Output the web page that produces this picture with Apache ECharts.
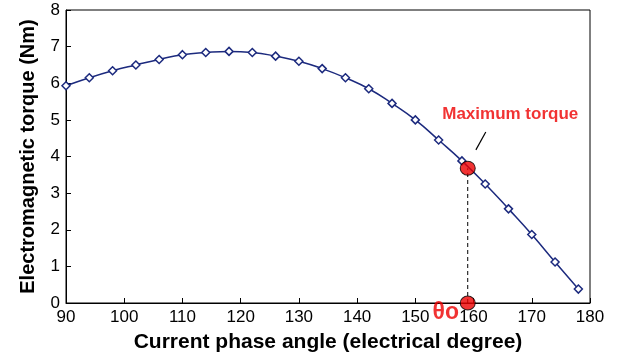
<!DOCTYPE html>
<html>
<head>
<meta charset="utf-8">
<script src="https://cdn.jsdelivr.net/npm/echarts@6/dist/echarts.min.js"></script>
<style>
  html, body { margin: 0; padding: 0; background: #fff; }
  #chart { width: 627px; height: 360px; }
</style>
</head>
<body>
<div id="chart"></div>
<script>
// current phase angle (deg) and torque (Nm)
const angles = [90, 94, 98, 102, 106, 110, 114, 118, 122, 126, 130, 134, 138, 142, 146, 150, 154, 158, 162, 166, 170, 174, 178];
const torque = [5.93, 6.15, 6.34, 6.5, 6.65, 6.78, 6.84, 6.87, 6.84, 6.74, 6.6, 6.4, 6.15, 5.85, 5.45, 5.0, 4.45, 3.88, 3.25, 2.57, 1.87, 1.12, 0.38];

// maximum torque point
const maxAngle = 159;
const maxTorque = 3.68;
const leaderLine = [[160.4, 4.18], [162.1, 4.67]];
const labelPos = [166.3, 5.15];

const xTicks = { min: 90, max: 180, step: 10 };
const yTicks = { min: 0, max: 8, step: 1 };

const font = 'Liberation Sans, Arial, sans-serif';
const navy = '#1c2a7e';

const chart = echarts.init(document.getElementById('chart'));

const option = {
  animation: false,
  backgroundColor: '#fff',
  grid: { left: 66, right: 37, top: 10, bottom: 57, show: true, borderColor: '#000', borderWidth: 1 },
  xAxis: {
    type: 'value',
    min: xTicks.min, max: xTicks.max, interval: xTicks.step,
    name: 'Current phase angle (electrical degree)',
    nameLocation: 'middle', nameGap: 29,
    nameTextStyle: { fontFamily: font, fontSize: 21, fontWeight: 'bold', color: '#000' },
    axisLine: { lineStyle: { color: '#000' } },
    axisTick: { inside: true, length: 5, lineStyle: { color: '#000' } },
    axisLabel: { fontFamily: font, fontSize: 17, color: '#000', margin: 6 },
    splitLine: { show: false }
  },
  yAxis: {
    type: 'value',
    min: yTicks.min, max: yTicks.max, interval: yTicks.step,
    name: 'Electromagnetic torque (Nm)',
    nameLocation: 'middle', nameGap: 28,
    nameTextStyle: { fontFamily: font, fontSize: 20, fontWeight: 'bold', color: '#000' },
    axisLine: { lineStyle: { color: '#000' } },
    axisTick: { inside: true, length: 5, lineStyle: { color: '#000' } },
    axisLabel: { fontFamily: font, fontSize: 17, color: '#000', margin: 6 },
    splitLine: { show: false }
  },
  series: [
    {
      type: 'line',
      smooth: true,
      data: angles.map((a, i) => [a, torque[i]]),
      symbol: 'diamond',
      symbolSize: 8,
      lineStyle: { color: navy, width: 1.5 },
      itemStyle: { color: '#fff', borderColor: navy, borderWidth: 1.5 },
      z: 3
    },
    {
      // dashed drop line
      type: 'line',
      data: [[maxAngle, 0], [maxAngle, maxTorque]],
      symbol: 'none',
      lineStyle: { color: '#000', width: 1, type: [4, 3] },
      z: 2
    },
    {
      type: 'line',
      data: leaderLine,
      symbol: 'none',
      lineStyle: { color: '#000', width: 1.2 },
      z: 2
    },
    {
      type: 'scatter',
      data: [[maxAngle, maxTorque], [maxAngle, 0]],
      symbol: 'circle',
      symbolSize: [15, 14],
      itemStyle: { color: '#ee0000', borderColor: '#000', borderWidth: 1 },
      clip: false,
      z: 5
    },
    {
      type: 'scatter',
      data: [labelPos],
      symbolSize: 0,
      label: {
        show: true, position: 'inside',
        formatter: 'Maximum torque',
        fontFamily: font, fontSize: 17, fontWeight: 'bold', color: '#ee0000'
      },
      z: 6
    },
    {
      type: 'scatter',
      data: [[maxAngle, 0]],
      symbolSize: 0,
      clip: false,
      label: {
        show: true, position: 'inside', offset: [-22, 10],
        formatter: 'θo',
        fontFamily: font, fontSize: 23, fontWeight: 'bold', color: '#ee0000'
      },
      z: 6
    }
  ]
};

chart.setOption(option);
</script>
</body>
</html>
